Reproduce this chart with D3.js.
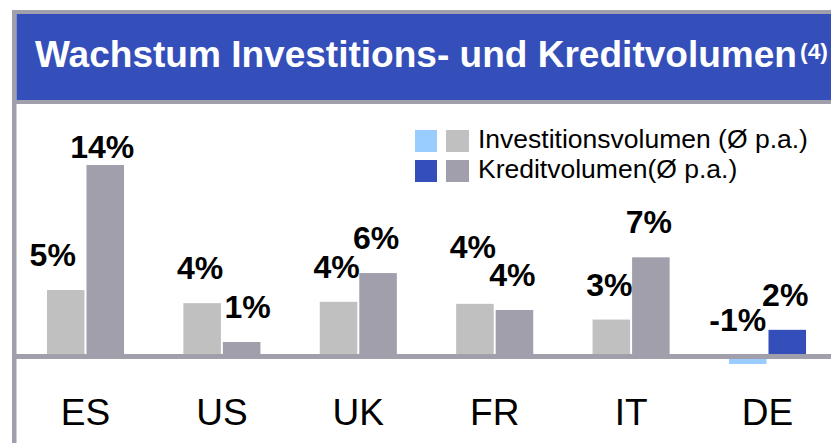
<!DOCTYPE html>
<html>
<head>
<meta charset="utf-8">
<script src="https://cdn.jsdelivr.net/npm/d3@7"></script>
<style>
body { margin: 0; background: #fff; }
svg { display: block; font-family: "Liberation Sans", Arial, sans-serif; }
</style>
</head>
<body>
<div></div>
<script>
var w = 831;
var h = 443;

// data
var countries = ["ES", "US", "UK", "FR", "IT", "DE"];
var invest = [4.86, 3.9, 4.0, 3.85, 2.7, -0.55];
var kredit = [14.0, 1.06, 6.1, 3.4, 7.25, 1.95];
var investLabels = ["5%", "4%", "4%", "4%", "3%", "-1%"];
var kreditLabels = ["14%", "1%", "6%", "4%", "7%", "2%"];
var highlight = "DE";

var seriesNames = ["Investitionsvolumen (Ø p.a.)", "Kreditvolumen(Ø p.a.)"];
var title = "Wachstum Investitions- und Kreditvolumen";
var titleNote = "(4)";

// colours
var blue = "#344fb9";
var frameGrey = "#a09fab";
var greyColors = ["#c0c0c0", "#a09fab"];
var blueColors = ["#99ccff", blue];

// hand nudges for the value labels [dx, dy]
var investNudge = [[-11, 0], [0, 0], [0, 0], [0, -22], [0, 0], [-8, -2]];
var kreditNudge = [[-1, 17], [8, 0], [0, 0], [0, 0], [0, 0], [0, 0]];

var svg = d3.select("div").append("svg")
	.attr("width", w)
	.attr("height", h);

// frame + title band
svg.append("rect").attr("x", 12).attr("y", 10).attr("width", w - 12).attr("height", 4).attr("fill", frameGrey);
svg.append("rect").attr("x", 12).attr("y", 10).attr("width", 4.5).attr("height", h - 10).attr("fill", frameGrey);
svg.append("rect").attr("x", 16.5).attr("y", 14).attr("width", w - 16.5).attr("height", 86).attr("fill", blue);
svg.append("rect").attr("x", 12).attr("y", 100).attr("width", w - 12).attr("height", 4).attr("fill", frameGrey);

svg.append("text")
	.attr("x", 35)
	.attr("y", 67)
	.attr("fill", "#fff")
	.attr("font-weight", "bold")
	.attr("font-size", 37)
	.attr("textLength", 762)
	.attr("lengthAdjust", "spacingAndGlyphs")
	.text(title);

svg.append("text")
	.attr("x", 800)
	.attr("y", 59)
	.attr("fill", "#fff")
	.attr("font-weight", "bold")
	.attr("font-size", 22)
	.attr("textLength", 28)
	.attr("lengthAdjust", "spacingAndGlyphs")
	.text(titleNote);

// scales
var x0 = d3.scaleBand()
	.domain(countries)
	.range([17.3, 835.7])
	.paddingInner(0.435)
	.paddingOuter(0.2175);

var x1 = d3.scaleBand()
	.domain([0, 1])
	.range([0, x0.bandwidth()])
	.paddingInner(0.05);

var y = d3.scaleLinear()
	.domain([0, 14])
	.range([356.5, 165]);

var rows = countries.map(function(c, i) {
	return { country: c, vals: [invest[i], kredit[i]], labels: [investLabels[i], kreditLabels[i]],
		nudges: [investNudge[i], kreditNudge[i]] };
});

var groups = svg.selectAll("g.country")
	.data(rows)
	.enter()
	.append("g")
	.attr("class", "country")
	.attr("transform", function(d) { return "translate(" + x0(d.country) + ",0)"; });

var bars = groups.selectAll("g.bar")
	.data(function(d) {
		return d.vals.map(function(v, k) {
			return { k: k, v: v, label: d.labels[k], nudge: d.nudges[k], hi: d.country == highlight };
		});
	})
	.enter()
	.append("g")
	.attr("class", "bar");

bars.append("rect")
	.attr("x", function(d) { return x1(d.k); })
	.attr("width", x1.bandwidth())
	.attr("y", function(d) { return y(Math.max(0, d.v)); })
	.attr("height", function(d) { return Math.abs(y(d.v) - y(0)); })
	.attr("fill", function(d) { return d.hi ? blueColors[d.k] : greyColors[d.k]; });

// zero line
svg.append("line")
	.attr("x1", 16)
	.attr("x2", w)
	.attr("y1", y(0))
	.attr("y2", y(0))
	.attr("stroke", frameGrey)
	.attr("stroke-width", 5);

// value labels
bars.append("text")
	.attr("x", function(d) { return x1(d.k) + x1.bandwidth() / 2 - 2 + d.nudge[0]; })
	.attr("y", function(d) { return y(Math.max(0, d.v)) - 24 + d.nudge[1]; })
	.attr("text-anchor", "middle")
	.attr("font-weight", "bold")
	.attr("font-size", 32)
	.attr("fill", "#000")
	.text(function(d) { return d.label; });

// category axis
var xAxis = d3.axisBottom(x0).tickSize(0).tickPadding(0);
var axisG = svg.append("g")
	.attr("transform", "translate(0,398)")
	.call(xAxis);
axisG.select(".domain").remove();
axisG.selectAll("text")
	.attr("dy", null)
	.attr("y", 27)
	.attr("font-size", 37)
	.attr("font-family", "Liberation Sans, Arial, sans-serif")
	.attr("fill", "#000");

// legend
var legend = svg.selectAll("g.legend")
	.data(seriesNames)
	.enter()
	.append("g")
	.attr("class", "legend")
	.attr("transform", function(d, i) { return "translate(415," + (130 + i * 30) + ")"; });

legend.append("rect")
	.attr("width", 22).attr("height", 22)
	.attr("fill", function(d, i) { return blueColors[i]; });

legend.append("rect")
	.attr("x", 31)
	.attr("width", 23).attr("height", 22)
	.attr("fill", function(d, i) { return greyColors[i]; });

legend.append("text")
	.attr("x", 63)
	.attr("y", 18)
	.attr("font-size", 26.5)
	.attr("fill", "#000")
	.text(function(d) { return d; });
</script>
</body>
</html>
